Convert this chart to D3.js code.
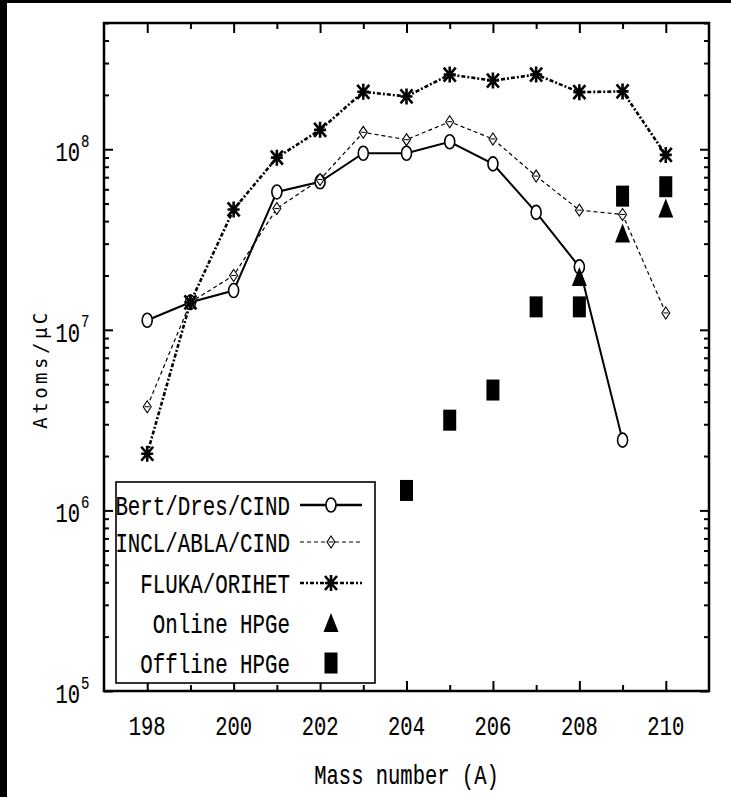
<!DOCTYPE html>
<html>
<head>
<meta charset="utf-8">
<script src="https://cdn.jsdelivr.net/npm/d3@7"></script>
<style>
  html, body { margin: 0; padding: 0; background: #fff; }
  svg { display: block; }
  text { font-family: 'Liberation Mono', 'DejaVu Sans Mono', monospace; fill: #000; }
</style>
</head>
<body>
<script>
const width = 731;
const height = 797;

// values (atoms per microcoulomb)
const massNumbers = [198, 199, 200, 201, 202, 203, 204, 205, 206, 207, 208, 209, 210];
const bertValues = [1.13e7, 1.42e7, 1.65e7, 5.8e7, 6.6e7, 9.5e7, 9.5e7, 1.10e8, 8.3e7, 4.47e7, 2.23e7, 2.45e6, null];
const inclValues = [3.75e6, 1.42e7, 2.0e7, 4.7e7, 6.8e7, 1.24e8, 1.13e8, 1.42e8, 1.14e8, 7.1e7, 4.6e7, 4.35e7, 1.24e7];
const flukaValues = [2.06e6, 1.42e7, 4.64e7, 8.98e7, 1.28e8, 2.08e8, 1.96e8, 2.59e8, 2.4e8, 2.59e8, 2.07e8, 2.09e8, 9.3e7];
const onlineMass = [208, 209, 210];
const onlineValues = [1.96e7, 3.41e7, 4.7e7];
const offlineMass = [204, 205, 206, 207, 208, 209, 210];
const offlineValues = [1.29e6, 3.16e6, 4.64e6, 1.34e7, 1.34e7, 5.5e7, 6.2e7];
const xTickLabels = [198, 200, 202, 204, 206, 208, 210];
const yTickLabels = [1e5, 1e6, 1e7, 1e8];
const legendLabels = ['Bert/Dres/CIND', 'INCL/ABLA/CIND', 'FLUKA/ORIHET', 'Online HPGe', 'Offline HPGe'];

const plot = { left: 104, right: 709, top: 23, bottom: 691 };

const x = d3.scaleLinear().domain([197, 211]).range([plot.left, plot.right]);
const y = d3.scaleLog().domain([1e5, 5e8]).range([plot.bottom, plot.top]);

const svg = d3.select('body')
  .append('svg')
    .attr('width', width)
    .attr('height', height);

svg.append('rect').attr('width', width).attr('height', height).attr('fill', '#fff');
// scan edge
svg.append('rect').attr('x', 0).attr('y', 0).attr('width', width).attr('height', 3).attr('fill', '#000');
svg.append('rect').attr('x', 0).attr('y', 0).attr('width', 7).attr('height', height).attr('fill', '#000');

// tall, narrow mono text like the original
const label = (g, px, py, str, anchor, size, sy = 1.35) => g.append('text')
  .attr('transform', `translate(${px},${py}) scale(1,${sy})`)
  .attr('text-anchor', anchor)
  .attr('dy', '0.35em')
  .style('font-size', size + 'px')
  .style('stroke', '#000')
  .style('stroke-width', 0.12)
  .text(str);

// ticks (all pointing inward)
const evens = d3.range(198, 211, 2);
const odds = d3.range(199, 211, 2);
const majorY = yTickLabels;
const minorY = [];
for (let e = 5; e <= 8; e++) {
  for (let m = 2; m <= 9; m++) {
    const v = m * Math.pow(10, e);
    if (v <= 5e8) minorY.push(v);
  }
}

const axes = svg.append('g').attr('class', 'axes');

const addAxis = (axis, pos, values, size) => {
  axes.append('g')
    .attr('transform', pos)
    .call(axis.tickValues(values).tickSize(size).tickFormat(''))
    .call((g) => g.select('.domain').remove())
    .selectAll('line')
      .attr('stroke', '#000')
      .attr('stroke-width', 2);
};

addAxis(d3.axisBottom(x), `translate(0,${plot.bottom})`, evens, -10);
addAxis(d3.axisBottom(x), `translate(0,${plot.bottom})`, odds, -6);
addAxis(d3.axisTop(x), `translate(0,${plot.top})`, evens, -10);
addAxis(d3.axisTop(x), `translate(0,${plot.top})`, odds, -6);
addAxis(d3.axisLeft(y), `translate(${plot.left},0)`, majorY, -9);
addAxis(d3.axisLeft(y), `translate(${plot.left},0)`, minorY, -5);
addAxis(d3.axisRight(y), `translate(${plot.right},0)`, majorY, -9);
addAxis(d3.axisRight(y), `translate(${plot.right},0)`, minorY, -5);

axes.append('rect')
  .attr('x', plot.left)
  .attr('y', plot.top)
  .attr('width', plot.right - plot.left)
  .attr('height', plot.bottom - plot.top)
  .attr('fill', 'none')
  .attr('stroke', '#000')
  .attr('stroke-width', 2.5);

// tick labels
const labels = svg.append('g');
xTickLabels.forEach((v) => label(labels, x(v), 725, v, 'middle', 20.5));
yTickLabels.forEach((v) => {
  const exp = Math.round(Math.log10(v));
  label(labels, 80, y(v) + 2, '10', 'end', 20.5);
  label(labels, 81, y(v) - 9, exp, 'start', 14);
});

// axis titles
label(labels, (plot.left + plot.right) / 2, 774, 'Mass number (A)', 'middle', 20.5);
svg.append('text')
  .attr('transform', `translate(40,369) rotate(-90)`)
  .attr('text-anchor', 'middle')
  .attr('dy', '0.35em')
  .style('font-family', "'DejaVu Sans Mono', monospace")
  .style('font-size', '19px')
  .style('letter-spacing', '3.5px')
  .text('Atoms/\u03bcC');

// series
const line = d3.line()
  .defined((d) => d[1] != null)
  .x((d) => x(d[0]))
  .y((d) => y(d[1]));

const series = [
  { values: bertValues, width: 2, dash: null },
  { values: inclValues, width: 1.2, dash: '4,3' },
  { values: flukaValues, width: 2.6, dash: '4,2,2,2' },
];

const lines = svg.append('g');
series.forEach((s) => {
  lines.append('path')
    .datum(massNumbers.map((m, i) => [m, s.values[i]]))
    .attr('d', line)
    .attr('fill', 'none')
    .attr('stroke', '#000')
    .attr('stroke-width', s.width)
    .attr('stroke-dasharray', s.dash);
});

// marker shapes
const asteriskPath = 'M-6,0L6,0M0,-8L0,8M-6,-7L6,7M-6,7L6,-7';
const drawCircle = (g, cx, cy) => g.append('ellipse')
  .attr('cx', cx).attr('cy', cy).attr('rx', 5).attr('ry', 7)
  .attr('fill', '#fff').attr('stroke', '#000').attr('stroke-width', 1.6);
const drawDiamond = (g, cx, cy) => {
  g.append('path')
    .attr('transform', `translate(${cx},${cy})`)
    .attr('d', 'M0,-6L4,0L0,6L-4,0Z')
    .attr('fill', '#fff').attr('stroke', '#000').attr('stroke-width', 1.1);
  g.append('line')
    .attr('x1', cx - 2.5).attr('x2', cx + 2.5).attr('y1', cy).attr('y2', cy)
    .attr('stroke', '#000').attr('stroke-width', 1);
};
const drawAsterisk = (g, cx, cy) => g.append('path')
  .attr('transform', `translate(${cx},${cy})`)
  .attr('d', asteriskPath)
  .attr('fill', 'none').attr('stroke', '#000').attr('stroke-width', 2.6);
const drawTriangle = (g, cx, cy) => g.append('path')
  .attr('transform', `translate(${cx},${cy})`)
  .attr('d', 'M0,-10L7.5,9L-7.5,9Z')
  .attr('fill', '#000');
const drawSquare = (g, cx, cy) => g.append('rect')
  .attr('x', cx - 6.5).attr('y', cy - 10.5).attr('width', 13).attr('height', 21)
  .attr('fill', '#000');

const markers = svg.append('g');
massNumbers.forEach((m, i) => {
  if (bertValues[i] != null) drawCircle(markers, x(m), y(bertValues[i]));
});
massNumbers.forEach((m, i) => drawDiamond(markers, x(m), y(inclValues[i])));
massNumbers.forEach((m, i) => drawAsterisk(markers, x(m), y(flukaValues[i])));
offlineMass.forEach((m, i) => drawSquare(markers, x(m), y(offlineValues[i])));
onlineMass.forEach((m, i) => drawTriangle(markers, x(m), y(onlineValues[i])));

// legend
const legend = svg.append('g');
legend.append('rect')
  .attr('x', 116).attr('y', 482).attr('width', 259).attr('height', 201)
  .attr('fill', '#fff').attr('stroke', '#000').attr('stroke-width', 1.6);

const rowY = [505, 542, 583, 623, 663];
const drawers = [drawCircle, drawDiamond, drawAsterisk, drawTriangle, drawSquare];
legendLabels.forEach((name, i) => {
  label(legend, 290, rowY[i], name, 'end', 20.8);
  if (i < 3) {
    legend.append('line')
      .attr('x1', 300).attr('x2', 362)
      .attr('y1', rowY[i]).attr('y2', rowY[i])
      .attr('stroke', '#000')
      .attr('stroke-width', i === 1 ? 1.2 : 2.6)
      .attr('stroke-dasharray', series[i].dash);
  }
  drawers[i](legend, 331, rowY[i]);
});
</script>
</body>
</html>
